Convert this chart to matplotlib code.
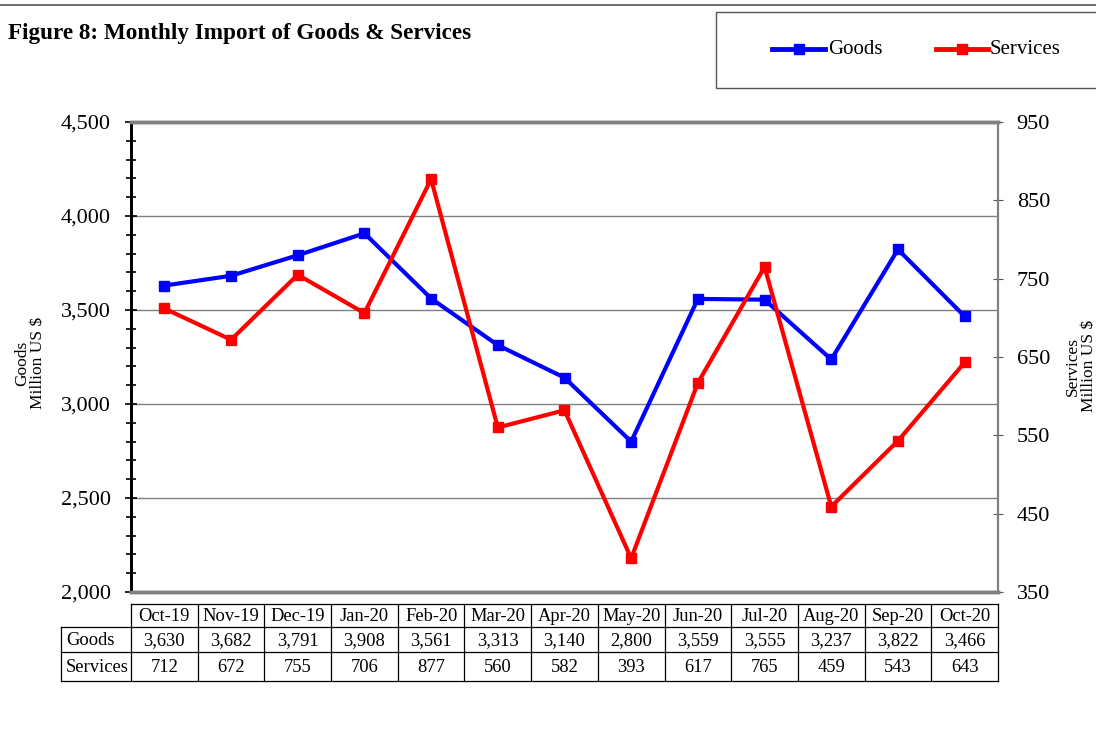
import matplotlib
matplotlib.use("Agg")
import matplotlib.pyplot as plt
from matplotlib.ticker import MultipleLocator, FixedLocator, FuncFormatter
from matplotlib.lines import Line2D
from matplotlib.patches import Rectangle

months = ["Oct-19", "Nov-19", "Dec-19", "Jan-20", "Feb-20", "Mar-20", "Apr-20",
          "May-20", "Jun-20", "Jul-20", "Aug-20", "Sep-20", "Oct-20"]
goods = [3630, 3682, 3791, 3908, 3561, 3313, 3140, 2800, 3559, 3555, 3237, 3822, 3466]
services = [712, 672, 755, 706, 877, 560, 582, 393, 617, 765, 459, 543, 643]
services_ticks = [350, 450, 550, 650, 750, 850, 950]

plt.rcParams['font.family'] = ['Liberation Serif', 'DejaVu Serif']

W, H = 1096, 746
fig = plt.figure(figsize=(W / 100, H / 100), dpi=100)

def fx(px):
    return px / W

def fy(py):
    return 1 - py / H

ax_l, ax_r, ax_t, ax_b = 131, 998, 122, 592
ax = fig.add_axes([fx(ax_l), fy(ax_b), fx(ax_r - ax_l), fy(ax_t) - fy(ax_b)])
ax2 = ax.twinx()

x = list(range(len(months)))
ax.plot(x, goods, color="#0000FF", lw=3, marker="s", ms=6.5, zorder=3)
ax2.plot(x, services, color="#FF0000", lw=3, marker="s", ms=6.5, zorder=3)

ax.set_xlim(-0.5, len(months) - 0.5)
ax.set_ylim(2000, 4500)
ax2.set_ylim(350, 950)
ax.set_xticks([])
ax.yaxis.set_major_locator(MultipleLocator(500))
ax.yaxis.set_minor_locator(MultipleLocator(100))
ax.yaxis.set_major_formatter(FuncFormatter(lambda v, p: f"{int(v):,}"))
ax.tick_params(axis="y", which="major", direction="inout", length=9, width=1.2,
               labelsize=16, pad=10)
ax.tick_params(axis="y", which="minor", direction="inout", length=7, width=1.2)
ax2.yaxis.set_major_locator(FixedLocator(services_ticks))
ax2.tick_params(axis="y", which="major", direction="inout", length=7, width=0.8,
                labelsize=16, pad=10, color="#555555")
ax.grid(axis="y", which="major", color="#808080", lw=1)
ax.set_axisbelow(True)

for a in (ax, ax2):
    a.spines["top"].set_color("#808080")
    a.spines["top"].set_linewidth(2.5)
    a.spines["bottom"].set_color("#808080")
    a.spines["bottom"].set_linewidth(2.5)
    a.spines["right"].set_color("#808080")
    a.spines["right"].set_linewidth(1.5)
    a.spines["left"].set_color("black")
    a.spines["left"].set_linewidth(2)

fig.text(fx(30), fy(363), "Goods\nMillion US $", rotation=90, ha="center",
         va="center", fontsize=12.5, linespacing=1.0)
fig.text(fx(1081), fy(366), "Services\nMillion US $", rotation=90, ha="center",
         va="center", fontsize=12.5, linespacing=1.0)

# title and decorations
fig.text(fx(8), fy(33), "Figure 8: Monthly Import of Goods & Services",
         fontsize=16.7, fontweight="bold", ha="left", va="center")
fig.add_artist(Line2D([0, 1], [fy(5), fy(5)], color="#555555", lw=1.2))
fig.add_artist(Rectangle((fx(716), fy(88)), fx(1100 - 716), fy(12) - fy(88),
                         fill=False, ec="#555555", lw=1.0))
# legend entries
for (x0, x1, tx, col, lab) in [(772, 825, 828, "#0000FF", "Goods"),
                                (936, 988, 990, "#FF0000", "Services")]:
    fig.add_artist(Line2D([fx(x0), fx(x1)], [fy(49), fy(49)], color=col, lw=3.5))
    fig.add_artist(Line2D([fx((x0 + x1) / 2)], [fy(49)], color=col, marker="s",
                          ms=6.5, lw=0))
    fig.text(fx(tx), fy(49), lab, fontsize=15, ha="left", va="center")

# data table
tab_left, row_top, r1, r2, row_bot = 61, 604, 627, 652, 681
tax = fig.add_axes([0, 0, 1, 1], facecolor="none")
tax.set_xlim(0, W)
tax.set_ylim(H, 0)
tax.axis("off")
colw = (ax_r - ax_l) / len(months)
edges = [ax_l + i * colw for i in range(len(months) + 1)]
lc = "black"
tax.plot([ax_l, ax_r], [row_top, row_top], color=lc, lw=0.9)
tax.plot([tab_left, ax_r], [r1, r1], color=lc, lw=0.9)
tax.plot([tab_left, ax_r], [r2, r2], color=lc, lw=0.9)
tax.plot([tab_left, ax_r], [row_bot, row_bot], color=lc, lw=0.9)
tax.plot([tab_left, tab_left], [r1, row_bot], color=lc, lw=0.9)
for e in edges:
    tax.plot([e, e], [row_top, row_bot], color=lc, lw=0.9)
for i, m in enumerate(months):
    cx = (edges[i] + edges[i + 1]) / 2
    tax.text(cx, (row_top + r1) / 2 + 1, m, ha="center", va="center", fontsize=13.3)
    tax.text(cx, (r1 + r2) / 2 + 1, f"{goods[i]:,}", ha="center", va="center", fontsize=13.3)
    tax.text(cx, (r2 + row_bot) / 2 + 1, f"{services[i]:,}", ha="center", va="center", fontsize=13.3)
tax.text(tab_left + 5, (r1 + r2) / 2 + 1, "Goods", ha="left", va="center", fontsize=13.3)
tax.text(tab_left + 5, (r2 + row_bot) / 2 + 1, "Services", ha="left", va="center", fontsize=13.3)

fig.savefig("out.png", dpi=100)
